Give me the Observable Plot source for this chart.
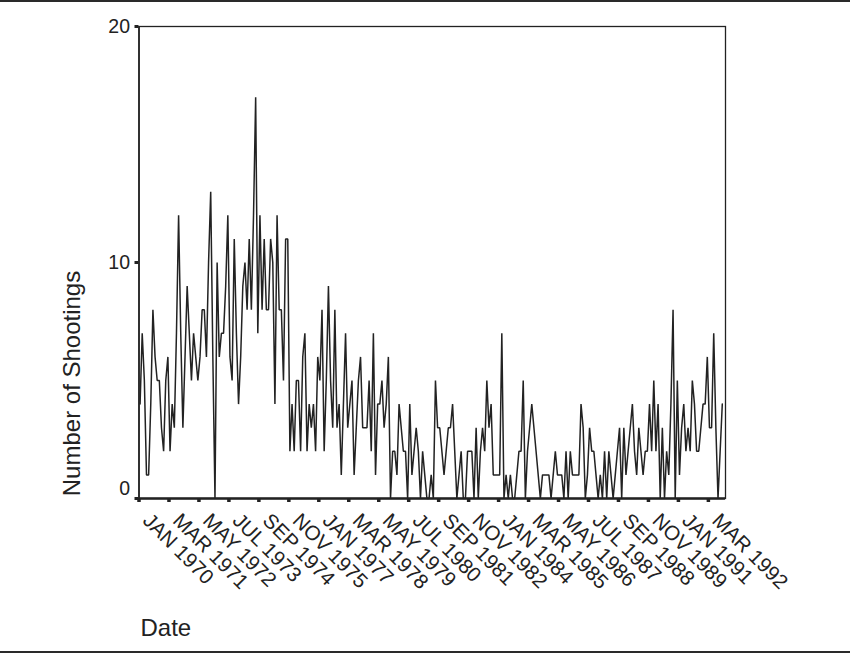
<!DOCTYPE html>
<html>
<head>
<meta charset="utf-8">
<script src="https://cdn.jsdelivr.net/npm/d3@7"></script>
<script src="https://cdn.jsdelivr.net/npm/@observablehq/plot@0.6"></script>
<style>
  html, body { margin: 0; padding: 0; background: #fff; }
  #wrap { width: 850px; border-top: 2px solid #2a2a2a; border-bottom: 2px solid #2a2a2a; }
  svg { display: block; }
</style>
</head>
<body>
<div id="wrap"></div>
<script>
// Monthly number of shootings, starting January 1970
const startYear = 1970;
const shootings = [
  4,7,5,1,1,4,8,6,5,5,
  3,2,5,6,2,4,3,7,12,7,
  3,6,9,7,5,7,6,5,6,8,
  8,6,10,13,6,0,10,6,7,7,
  9,12,6,5,11,7,4,6,9,10,
  8,11,8,12,17,7,12,8,11,8,
  8,11,10,4,12,8,8,5,11,11,
  2,4,2,5,5,2,6,7,2,4,
  3,4,2,6,5,8,2,5,9,5,
  3,8,3,4,1,4,7,3,4,5,
  1,3,5,6,3,3,3,5,2,7,
  1,4,4,5,3,4,6,0,2,2,
  1,4,3,2,2,0,4,1,2,3,
  2,0,2,1,0,0,1,0,5,3,
  3,2,1,2,3,3,4,2,0,1,
  2,0,0,2,2,2,0,3,0,2,
  3,2,5,3,4,1,1,1,1,7,
  0,1,0,1,0,0,1,2,2,5,
  0,2,3,4,3,2,1,0,1,1,
  1,1,0,1,2,1,1,1,0,2,
  0,2,1,1,1,1,4,3,0,1,
  3,2,2,1,0,1,0,2,0,2,
  1,0,1,2,3,0,3,1,2,3,
  4,2,1,3,2,1,2,2,4,2,
  5,2,4,0,3,0,2,1,4,8,
  0,5,1,3,4,2,3,2,5,4,
  2,2,3,4,4,6,3,3,7,3,
  0,2,4
];
const totalMonths = 274;           // Jan 1970 .. Oct 1992 axis span
const tickStep = 14;               // months between date ticks
const xTickLabels = ["JAN 1970","MAR 1971","MAY 1972","JUL 1973","SEP 1974","NOV 1975",
  "JAN 1977","MAR 1978","MAY 1979","JUL 1980","SEP 1981","NOV 1982","JAN 1984","MAR 1985",
  "MAY 1986","JUL 1987","SEP 1988","NOV 1989","JAN 1991","MAR 1992"];
const yTicks = [0, 10, 20];
const yTickLabels = ["0", "10", "20"];

const data = shootings.map((v, i) => ({month: i + 0.5, value: v}));
const xTicks = xTickLabels.map((label, k) => ({pos: k * tickStep, label}));
const yTickData = yTicks.map((v, k) => ({v, label: yTickLabels[k]}));

const ink = "#222";
const font = "Liberation Sans, Arial, Helvetica, sans-serif";

const chart = Plot.plot({
  width: 850,
  height: 649,
  marginLeft: 138.5,
  marginRight: 125,
  marginTop: 24,
  marginBottom: 153,
  style: {fontFamily: font, color: ink, background: "#fff", overflow: "visible"},
  x: {type: "linear", domain: [0, totalMonths]},
  y: {domain: [0, 20]},
  marks: [
    Plot.frame({stroke: ink, strokeWidth: 1.3}),
    Plot.line(data, {x: "month", y: "value", stroke: ink, strokeWidth: 1.5, strokeLinejoin: "miter"}),
    Plot.ruleY([0], {stroke: ink, strokeWidth: 2.4}),
    Plot.ruleX([0], {stroke: ink, strokeWidth: 1.6}),
    Plot.axisX(xTicks.map(d => d.pos), {tickSize: 4, strokeWidth: 3.5, stroke: ink, tickFormat: () => "", label: null}),
    Plot.axisY(yTicks, {tickSize: 4, strokeWidth: 3, stroke: ink, tickFormat: () => "", label: null}),
    // rotated date labels
    Plot.text(xTicks, {x: "pos", text: "label", frameAnchor: "bottom", rotate: 45,
      textAnchor: "start", lineAnchor: "top", dx: 13, dy: 13, fontSize: 20.5, fill: ink}),
    // y tick labels (the 0 label is raised above the axis line)
    Plot.text(yTickData.filter(d => d.v !== 0), {y: "v", text: "label", frameAnchor: "left",
      textAnchor: "end", lineAnchor: "middle", dx: -9, fontSize: 19.5, fill: ink}),
    Plot.text(yTickData.filter(d => d.v === 0), {y: "v", text: "label", frameAnchor: "left",
      textAnchor: "end", lineAnchor: "middle", dx: -9, dy: -9.5, fontSize: 19.5, fill: ink}),
    // axis titles
    Plot.text(["Number of Shootings"], {frameAnchor: "left", rotate: -90, textAnchor: "middle",
      lineAnchor: "middle", dx: -66.5, dy: 121, fontSize: 24, fill: ink}),
    Plot.text(["Date"], {frameAnchor: "bottom-left", textAnchor: "start", lineAnchor: "middle",
      dx: 1.5, dy: 130, fontSize: 24, fill: ink})
  ]
});
document.getElementById("wrap").appendChild(chart);
</script>
</body>
</html>
